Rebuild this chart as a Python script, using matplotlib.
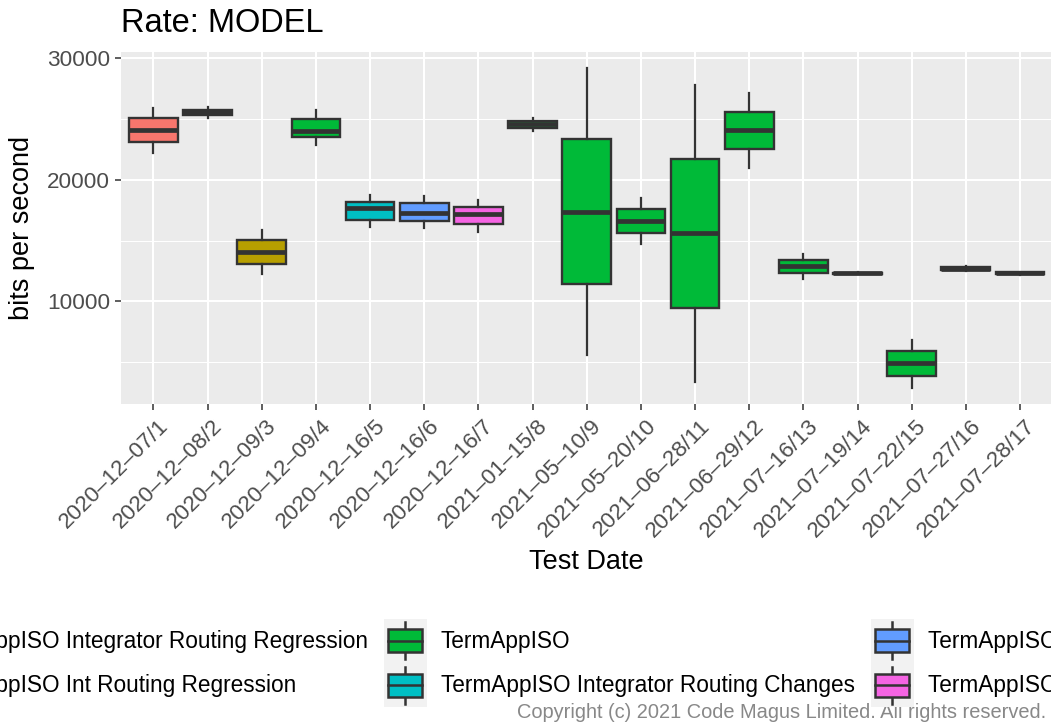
import matplotlib
matplotlib.use("Agg")
import matplotlib.pyplot as plt
import matplotlib.transforms as mtransforms
from matplotlib.patches import Patch, Rectangle
from matplotlib.lines import Line2D
from matplotlib.legend_handler import HandlerBase
from matplotlib.ticker import MultipleLocator

plt.rcParams['font.family'] = ['Liberation Sans', 'DejaVu Sans']

# test runs (x categories)
dates = ["2020–12–07/1", "2020–12–08/2", "2020–12–09/3", "2020–12–09/4",
         "2020–12–16/5", "2020–12–16/6", "2020–12–16/7", "2021–01–15/8",
         "2021–05–10/9", "2021–05–20/10", "2021–06–28/11", "2021–06–29/12",
         "2021–07–16/13", "2021–07–19/14", "2021–07–22/15", "2021–07–27/16",
         "2021–07–28/17"]

# box statistics (bits per second)
whislo = [22200, 25100, 12250, 22860, 16120, 16010, 15730, 24050, 5580,
          14720, 3390, 20950, 11870, 12220, 2870, 12500, 12180]
q1 = [23100, 25350, 13100, 23520, 16730, 16610, 16340, 24300, 11460,
      15660, 9450, 22510, 12360, 12260, 3830, 12600, 12230]
med = [24100, 25550, 14100, 24020, 17650, 17300, 17220, 24600, 17380,
       16610, 15600, 24100, 12940, 12300, 4920, 12700, 12300]
q3 = [25050, 25750, 15020, 25040, 18150, 18070, 17760, 24850, 23330,
      17570, 21690, 25610, 13430, 12360, 5910, 12800, 12380]
whishi = [25950, 26000, 15870, 25720, 18780, 18700, 18370, 25100, 29180,
          18500, 27780, 27120, 13890, 12400, 6850, 12900, 12420]

# which configuration each run belongs to (index into groups)
run_group = [0, 0, 1, 2, 3, 4, 5, 2, 2, 2, 2, 2, 2, 2, 2, 2, 2]

groups = ["TermAppISO Integrator Routing Regression",
          "TermAppISO Int Routing Regression",
          "TermAppISO",
          "TermAppISO Integrator Routing Changes",
          "TermAppISO Regression",
          "TermAppISO Changes"]
group_colors = ['#F8766D', '#B79F00', '#00BA38', '#00BFC4', '#619CFF', '#F564E3']

dark = '#333333'
W, H = 1051, 725
fig = plt.figure(figsize=(W / 100, H / 100), dpi=100)
ax = fig.add_axes([121 / W, 1 - 404 / H, (1052.5 - 121) / W, (404 - 52.3) / H])
ax.set_facecolor('#EBEBEB')
for s in ax.spines.values():
    s.set_visible(False)

stats = [dict(whislo=a, q1=b, med=c, q3=d, whishi=e, fliers=[])
         for a, b, c, d, e in zip(whislo, q1, med, q3, whishi)]
bp = ax.bxp(stats, positions=range(len(dates)), widths=0.9, patch_artist=True,
            showfliers=False, showcaps=False,
            boxprops=dict(edgecolor=dark, linewidth=1.7),
            whiskerprops=dict(color=dark, linewidth=1.6),
            medianprops=dict(color=dark, linewidth=3.4, solid_capstyle='butt'),
            zorder=3)
for patch, g in zip(bp['boxes'], run_group):
    patch.set_facecolor(group_colors[g])

# axis ranges, ggplot style expansion
lo, hi = min(whislo), max(whishi)
pad = 0.05 * (hi - lo)
ax.set_ylim(lo - pad, hi + pad)
ax.set_xlim(-0.6, len(dates) - 1 + 0.6)

ax.yaxis.set_major_locator(MultipleLocator(10000))
ax.yaxis.set_minor_locator(MultipleLocator(5000))
ax.set_xticks(range(len(dates)))
ax.set_xticklabels(dates, rotation=45, ha='right', va='top', rotation_mode='anchor')
ax.grid(which='major', color='white', linewidth=1.5, zorder=0)
ax.grid(which='minor', axis='y', color='white', linewidth=0.75, zorder=0)
ax.set_axisbelow(True)
ax.tick_params(axis='both', which='major', length=4.3, width=1.1, color=dark,
               labelsize=16.2, labelcolor='#4D4D4D', pad=3.5)
ax.tick_params(axis='x', which='major', pad=3.8)
ax.tick_params(axis='y', which='minor', length=0)
shift = mtransforms.ScaledTranslation(3.2 / 72, 0, fig.dpi_scale_trans)
for lab in ax.get_xticklabels():
    lab.set_transform(lab.get_transform() + shift)

fig.text(121 / W, 1 - 31.7 / H, "Rate: MODEL", fontsize=23.5, va='baseline', ha='left')
fig.text(22.5 / W, 1 - 228 / H, "bits per second", fontsize=19.5, rotation=90,
         ha='center', va='center')
fig.text(586.7 / W, 1 - 562 / H, "Test Date", fontsize=19.5, ha='center', va='center')
fig.text(1046 / W, 1 - 718 / H, "Copyright (c) 2021 Code Magus Limited. All rights reserved.",
         fontsize=14.4, color='#888888', ha='right', va='baseline')


class BoxKey(HandlerBase):
    def create_artists(self, legend, orig, xd, yd, w, h, fontsize, trans):
        bg = Rectangle((-xd, -yd), w, h, facecolor='#F2F2F2', edgecolor='none', transform=trans)
        bw, bh = w * 0.8, h * 0.52
        x0 = -xd + (w - bw) / 2
        y0 = -yd + (h - bh) / 2
        cx = -xd + w / 2
        cy = -yd + h / 2
        wh = Line2D([cx, cx], [-yd + h * 0.08, -yd + h * 0.92], color=dark, lw=1.8, transform=trans)
        box = Rectangle((x0, y0), bw, bh, facecolor=orig.get_facecolor(), edgecolor=dark,
                        lw=1.8, transform=trans)
        mid = Line2D([x0, x0 + bw], [cy, cy], color=dark, lw=1.8, transform=trans)
        return [bg, wh, box, mid]


handles = [Patch(facecolor=c, label=g) for c, g in zip(group_colors, groups)]
fig.legend(handles=handles, loc='center', bbox_to_anchor=(0.5, 1 - 663 / H), ncol=3,
           frameon=False, fontsize=16.3, handler_map={Patch: BoxKey()},
           handlelength=1.9, handleheight=2.62, labelspacing=0,
           handletextpad=0.62, columnspacing=0.7, borderpad=0)

fig.savefig("out.png", dpi=100)
